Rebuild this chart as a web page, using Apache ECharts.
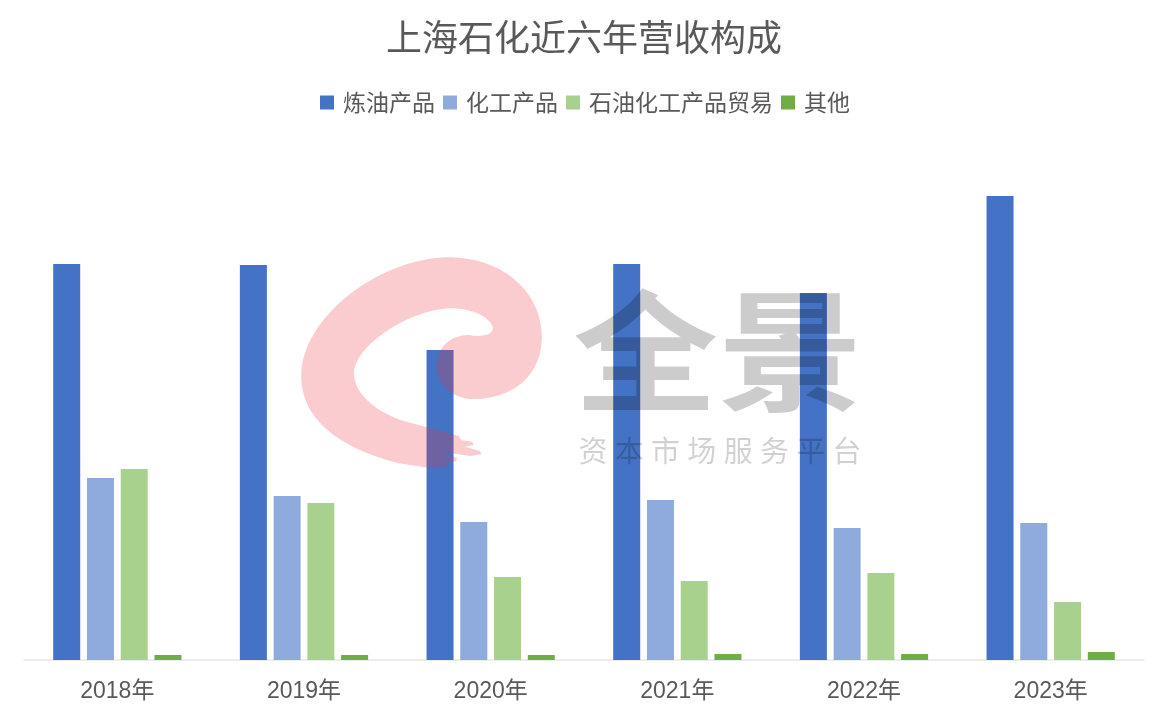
<!DOCTYPE html>
<html><head><meta charset="utf-8">
<style>html,body{margin:0;padding:0;background:#fff}#c{width:1168px;height:720px}</style>
<script src="https://cdn.jsdelivr.net/npm/echarts@6/dist/echarts.min.js"></script></head>
<body><div id="c"></div>
<script>
const titleText = '上海石化近六年营收构成';
const categories = ['2018年','2019年','2020年','2021年','2022年','2023年'];
const refined = [396,395,310,396,367,464];
const chemical = [182,164,138,160,132,137];
const trade = [191,157,83,79,87,58];
const others = [5,5,5,6,6,8];
const seriesNames = ['炼油产品','化工产品','石油化工产品贸易','其他'];
const seriesColors = ['#4472c4','#8faadc','#a9d18e','#70ad47'];
const seriesValues = [refined,chemical,trade,others];
const cjk = '"Noto Sans CJK SC","Noto Sans",sans-serif';
const swirl = 'M290 640C120 590 30 500 30 380C30 200 240 25 420 22C570 22 670 130 670 260C670 370 600 445 490 447C430 447 390 400 390 350C390 290 430 255 475 255C510 262 540 255 540 235C535 200 480 175 430 175C330 175 170 280 170 375C175 440 240 490 300 512L450 558L455 570L485 575L488 585L465 590L505 603L510 612L480 618L400 605L445 625L440 635L415 637L420 650L360 652Z';
echarts.graphic.registerShape('swirl', echarts.graphic.extendPath(swirl, {}));
const chart = echarts.init(document.getElementById('c'));
chart.setOption({
  animation:false,
  backgroundColor:'#fff',
  title:{text:titleText,left:'center',top:14,textStyle:{fontFamily:cjk,fontSize:36,fontWeight:'normal',color:'#595959'}},
  legend:{top:86,left:315,itemWidth:14,itemHeight:14,itemGap:8,icon:'rect',
    textStyle:{fontFamily:cjk,fontSize:23,color:'#595959',padding:[0,0,0,4]},data:seriesNames},
  grid:{left:24,right:24,top:160,height:500},
  xAxis:{type:'category',data:categories,
    axisLine:{lineStyle:{color:'#e8e8e8',width:1.5}},axisTick:{show:false},
    axisLabel:{margin:20,fontSize:23,color:'#595959',fontFamily:'"Liberation Sans",'+cjk}},
  yAxis:{type:'value',min:0,max:500,show:false,splitLine:{show:false}},
  series:seriesValues.map((v,i)=>({name:seriesNames[i],type:'bar',data:v,barWidth:27,barGap:'25%',
    itemStyle:{color:seriesColors[i]}})),
  graphic:[
    {type:'swirl',z:100,x:290,y:250,scaleX:1/2.66,scaleY:1/3,shape:{},
      style:{fill:'rgba(235,50,65,0.25)'}},
    {type:'text',z:100,x:718,y:351,scaleY:0.9,style:{text:'全景',fontFamily:cjk,fontSize:145,fontWeight:'bold',
      fill:'rgba(0,0,0,0.2)',align:'center',verticalAlign:'middle'}},
    {type:'text',z:100,x:720,y:451,style:{text:'资\u2005本\u2005市\u2005场\u2005服\u2005务\u2005平\u2005台',fontFamily:cjk,fontSize:29,
      fill:'rgba(0,0,0,0.18)',align:'center',verticalAlign:'middle'}}
  ]
});
</script></body></html>
